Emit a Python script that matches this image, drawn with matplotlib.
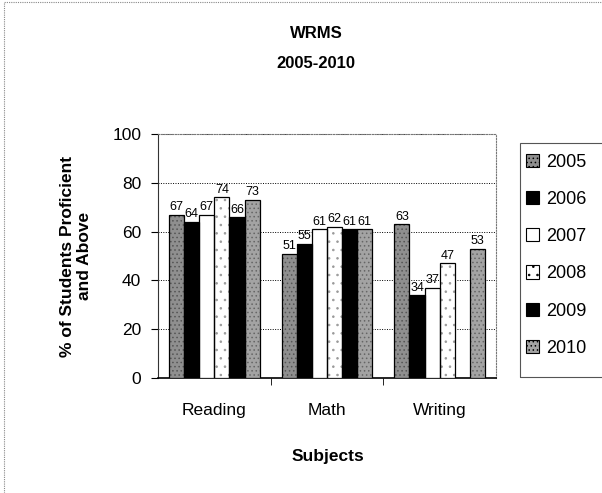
import matplotlib
matplotlib.use("Agg")
import matplotlib.pyplot as plt
import matplotlib.patches as patches
import numpy

plt.rcParams["font.family"] = ["Liberation Sans", "DejaVu Sans"]
plt.rcParams["hatch.linewidth"] = 0.6

########
# Data #
########

subjects = ["Reading", "Math", "Writing"]
years = ["2005", "2006", "2007", "2008", "2009", "2010"]
scores = {
	"2005": [67, 51, 63],
	"2006": [64, 55, 34],
	"2007": [67, 61, 37],
	"2008": [74, 62, 47],
	"2009": [66, 61, numpy.nan],	# no Writing bar for 2009
	"2010": [73, 61, 53],
}

# bar looks (greyscale scan of an Excel chart)
face = ["#8f8f8f", "black", "white", "white", "black", "#a3a3a3"]
hatch = ["....", None, None, "..", None, "...."]
hatch_col = ["#555555", "black", "black", "#9a9a9a", "black", "#666666"]

########
# Plot #
########

fig = plt.figure("WRMS", figsize=[6.02, 4.93], dpi=100)
ax = fig.add_axes([158/602, 1 - 378/493, 338/602, 244/493])

x = numpy.arange(len(subjects))
n = len(years)
bar_w = 0.134
handles = []
for i in range(0, n):
	pos = x - bar_w * n / 2 + bar_w * (i + 0.5)
	vals = scores[years[i]]
	# fill + texture first, then the black outline on top
	ax.bar(pos, vals, width=bar_w, color=face[i], edgecolor=hatch_col[i],
		linewidth=0, hatch=hatch[i], zorder=3)
	ax.bar(pos, vals, width=bar_w, fill=False, edgecolor="black",
		linewidth=0.9, zorder=3.5)
	handles.append(patches.Patch(facecolor=face[i], edgecolor="black", linewidth=0.8,
		hatch=hatch[i], label=years[i]))
	for j in range(0, len(vals)):
		if numpy.isnan(vals[j]):
			continue
		ax.annotate(str(vals[j]), (pos[j], vals[j]), xytext=(0, 1),
			textcoords="offset points", ha="center", va="bottom",
			fontsize=9, zorder=4)

# Axes decoration
ax.set_xlim(-0.5, len(subjects) - 0.5)
ax.set_ylim(0, 100)
ax.set_yticks([0, 20, 40, 60, 80, 100])
ax.set_xticks(x)
ax.set_xticklabels(subjects)
ax.set_xticks([0.5, 1.5], minor=True)
ax.tick_params(axis="x", which="major", length=0, pad=18, labelsize=12.5)
ax.tick_params(axis="x", which="minor", length=5, direction="out")
ax.tick_params(axis="y", length=5, pad=7, labelsize=12.5)
ax.yaxis.grid(True, linestyle=(0, (1, 1.5)), color="black", linewidth=0.7, zorder=0)

for s in ["top", "right"]:
	ax.spines[s].set_linestyle((0, (1, 1.5)))
	ax.spines[s].set_color("#777777")
	ax.spines[s].set_linewidth(0.8)
ax.spines["left"].set_color("#333333")
ax.spines["bottom"].set_color("black")
ax.spines["bottom"].set_linewidth(1.2)

# Titles
fig.text(316/602, 1 - 33/493, "WRMS", ha="center", va="center", fontsize=12, fontweight="bold")
fig.text(316/602, 1 - 63/493, "2005-2010", ha="center", va="center", fontsize=12, fontweight="bold")
fig.text(76/602, 1 - 256/493, "% of Students Proficient\nand Above", rotation=90,
	ha="center", va="center", fontsize=12.5, fontweight="bold", linespacing=1.15)
fig.text(328/602, 1 - 457/493, "Subjects", ha="center", va="center", fontsize=12.5, fontweight="bold")

# Legend (box runs off the right edge like the scan)
leg = fig.legend(handles=handles, loc="upper left", bbox_to_anchor=(522/602, 1 - 150/493),
	fontsize=13, frameon=False, borderaxespad=0,
	handlelength=0.75, handleheight=0.75, handletextpad=0.4,
	labelspacing=1.12, borderpad=0.2)
leg_box = patches.Rectangle((520/602, 1 - 377/493), 0.2, 234/493, transform=fig.transFigure,
	fill=False, edgecolor="#555555", linewidth=0.8)
fig.patches.append(leg_box)

# Chart area border (left and top visible)
border = patches.Rectangle((4/602, -0.1), 1.2, 1.1 - 2/493, transform=fig.transFigure,
	fill=False, edgecolor="#888888", linewidth=0.8, linestyle=(0, (1, 1)))
fig.patches.append(border)

plt.savefig("out.png", dpi=100)
